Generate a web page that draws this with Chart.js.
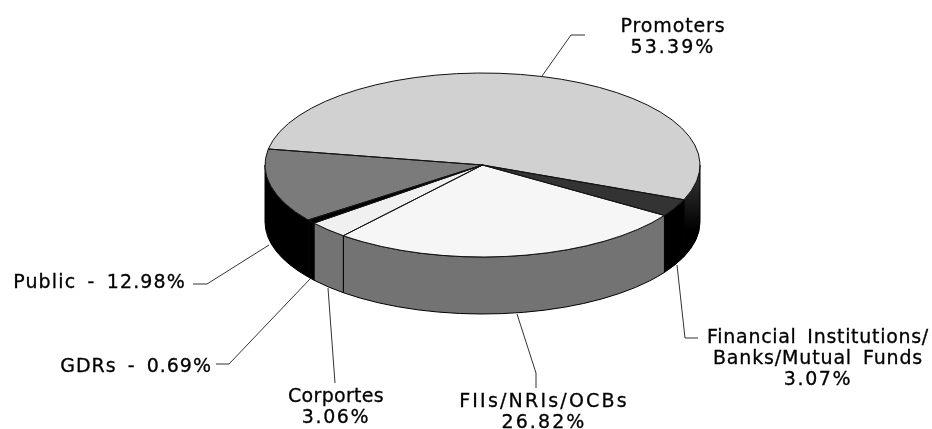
<!DOCTYPE html>
<html>
<head>
<meta charset="utf-8">
<style>html,body{margin:0;padding:0;background:#fff}canvas{display:block}</style>
<script src="https://cdn.jsdelivr.net/npm/chart.js@4"></script>
</head>
<body>
<canvas id="c" width="932" height="429"></canvas>
<script>
const categories = ["Promoters","Financial Institutions/ Banks/Mutual Funds","FIIs/NRIs/OCBs","Corportes","GDRs","Public"];
const shares = [53.39,3.07,26.82,3.06,0.69,12.98];
const topColors = ["#d1d1d1","#333333","#f6f6f6","#f0f0f0","#000000","#7b7b7b"];
const wallColors = ["#151515","#000000","#737373","#737373","#000000","#000000"];
const calloutLines = [
  ["Promoters","53.39%"],
  ["Financial Institutions/","Banks/Mutual Funds","3.07%"],
  ["FIIs/NRIs/OCBs","26.82%"],
  ["Corportes","3.06%"],
  ["GDRs - 0.69%"],
  ["Public - 12.98%"]
];
const calloutTracking = [
  [0.9,2.1],
  [0.7,0.85,1.6],
  [2.2,2.1],
  [0.3,1.6],
  [1.0],
  [1.15]
];
const calloutAnchors = [
  {x:673,y:32,align:"center",path:[[542,76],[571,35],[585,35]]},
  {x:818,y:343,align:"center",path:[[677,265],[685,338],[698,338]]},
  {x:544,y:407,align:"center",path:[[517,314],[536,373],[536,388]]},
  {x:336,y:401.5,align:"center",path:[[328,288],[335,383]]},
  {x:212,y:372,align:"right",path:[[310,279],[229,364],[216,364]]},
  {x:186,y:288,align:"right",path:[[269,245],[207,284],[193,284]]}
];
const pieView = {cx:482.5,cy:165,rx:217.5,ry:92,depth:57};

const pie3d = {
  id:"pie3d",
  beforeDatasetsDraw(chart){
    const ctx = chart.ctx, v = pieView, arcs = chart.getDatasetMeta(0).data;
    ctx.save();
    ctx.lineWidth = 1;
    arcs.forEach((arc,i)=>{
      const a = norm(arc.startAngle), b = a + (arc.endAngle-arc.startAngle);
      [[0,Math.PI],[2*Math.PI,3*Math.PI]].forEach(([lo,hi])=>{
        const s = Math.max(a,lo), e = Math.min(b,hi);
        if (e<=s) return;
        ctx.beginPath();
        ctx.ellipse(v.cx,v.cy,v.rx,v.ry,0,s,e);
        ctx.ellipse(v.cx,v.cy+v.depth,v.rx,v.ry,0,e,s,true);
        ctx.closePath();
        if (i===0){
          const g = ctx.createLinearGradient(0,v.cy,0,v.cy+v.depth+30);
          g.addColorStop(0,"#3c3c3c"); g.addColorStop(.75,"#000"); g.addColorStop(1,"#000");
          ctx.fillStyle = g;
        } else ctx.fillStyle = wallColors[i];
        ctx.strokeStyle = "#000";
        ctx.fill();
        ctx.stroke();
      });
    });
    ctx.restore();
    const first = arcs[0];
    ctx.save();
    ctx.translate(v.cx,v.cy);
    ctx.scale(v.rx/first.outerRadius,v.ry/first.outerRadius);
    ctx.translate(-first.x,-first.y);
  },
  afterDatasetsDraw(chart){
    const ctx = chart.ctx, v = pieView, arcs = chart.getDatasetMeta(0).data;
    ctx.restore();
    ctx.save();
    ctx.lineWidth = 1;
    ctx.strokeStyle = "#111";
    ctx.lineJoin = "round";
    arcs.forEach(arc=>{
      ctx.beginPath();
      ctx.moveTo(v.cx,v.cy);
      ctx.ellipse(v.cx,v.cy,v.rx,v.ry,0,arc.startAngle,arc.endAngle);
      ctx.closePath();
      ctx.stroke();
    });
    ctx.restore();
    drawCallouts(ctx);
  }
};
function norm(a){ while(a<0) a+=2*Math.PI; while(a>=2*Math.PI) a-=2*Math.PI; return a; }
function drawCallouts(ctx){
  ctx.save();
  ctx.fillStyle = "#000";
  ctx.font = '19px "DejaVu Sans"';
  ctx.wordSpacing = "4px";
  ctx.textBaseline = "alphabetic";
  calloutAnchors.forEach((c,i)=>{
    ctx.strokeStyle = "#333";
    ctx.lineWidth = 1;
    ctx.beginPath();
    c.path.forEach((p,k)=> k?ctx.lineTo(p[0],p[1]):ctx.moveTo(p[0],p[1]));
    ctx.stroke();
    ctx.textAlign = c.align;
    ctx.strokeStyle = "#000";
    ctx.lineWidth = 0.3;
    calloutLines[i].forEach((t,k)=>{
      ctx.letterSpacing = calloutTracking[i][k] + "px";
      const y = c.y + k*21;
      ctx.fillText(t,c.x,y);
      ctx.strokeText(t,c.x,y);
    });
  });
  ctx.restore();
}
new Chart(document.getElementById("c"),{
  type:"pie",
  data:{labels:categories,datasets:[{data:shares,backgroundColor:topColors,borderWidth:0}]},
  options:{
    responsive:false,animation:false,rotation:280,
    layout:{padding:0},
    plugins:{legend:{display:false},tooltip:{enabled:false},title:{display:false}}
  },
  plugins:[pie3d]
});
</script>
</body>
</html>
